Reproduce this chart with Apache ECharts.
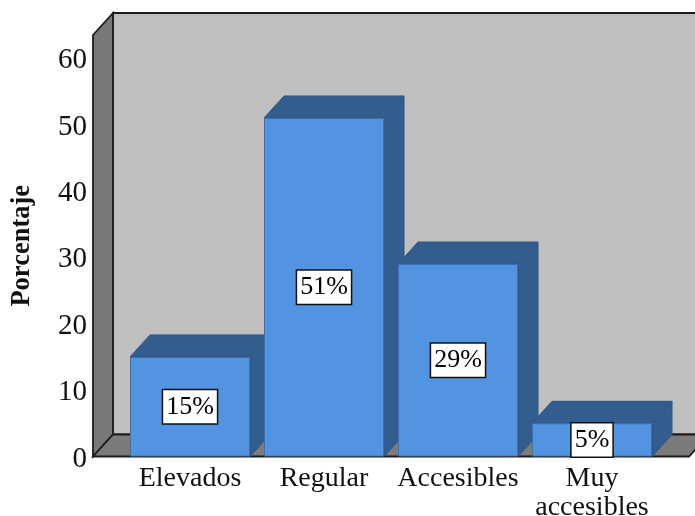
<!DOCTYPE html>
<html>
<head>
<meta charset="utf-8">
<script src="https://cdn.jsdelivr.net/npm/echarts@6/dist/echarts.min.js"></script>
<style>html,body{margin:0;padding:0;background:#fff}#c{width:695px;height:516px}</style>
</head>
<body>
<div id="c"></div>
<script>
const categories = ['Elevados', 'Regular', 'Accesibles', 'Muy\naccesibles'];
const percentages = [15, 51, 29, 5];
const axisMax = 63.5;
const tickStep = 10;

// Oblique projection offset of the extruded box
const DEPTH_X = 20, DEPTH_Y = -22;
const SIDE_MARGIN = 30;
const BAR_RATIO = 120 / 134;
const SERIF = '"Liberation Serif", "Times New Roman", serif';

const chart = echarts.init(document.getElementById('c'), null, { renderer: 'canvas' });

function poly(points, fill, stroke, lineWidth) {
  return {
    type: 'polygon',
    shape: { points },
    style: { fill, stroke: stroke || fill, lineWidth: lineWidth == null ? 1 : lineWidth }
  };
}

// Back wall, left wall and floor of the box, placed from the axis scales
function renderWalls(params, api) {
  const band = api.size([1, 0])[0];
  const left = api.coord([0, 0])[0] - band / 2 - SIDE_MARGIN;
  const right = api.coord([categories.length - 1, 0])[0] + band / 2 + SIDE_MARGIN;
  const y0 = api.coord([0, 0])[1];
  const yT = api.coord([0, axisMax])[1];
  const ink = '#1c1c1c';
  return {
    type: 'group',
    children: [
      poly([[left + DEPTH_X, yT + DEPTH_Y], [right + DEPTH_X, yT + DEPTH_Y], [right + DEPTH_X, y0 + DEPTH_Y], [left + DEPTH_X, y0 + DEPTH_Y]], '#bfbfbf', ink, 1.8),
      poly([[left, yT], [left + DEPTH_X, yT + DEPTH_Y], [left + DEPTH_X, y0 + DEPTH_Y], [left, y0]], '#787878', ink, 1.8),
      poly([[left, y0], [left + DEPTH_X, y0 + DEPTH_Y], [right + DEPTH_X, y0 + DEPTH_Y], [right, y0]], '#7b7b7b', ink, 1.8)
    ]
  };
}

// Top and side faces of each bar; the front face comes from the bar series
function renderBarDepth(params, api) {
  const i = api.value(0);
  const v = api.value(1);
  const c = api.coord([i, v]);
  const y0 = api.coord([i, 0])[1];
  const w = api.size([1, 0])[0] * BAR_RATIO;
  const l = c[0] - w / 2, r = c[0] + w / 2, t = c[1];
  const face = '#335c8f';
  const edge = '#2f5684';
  return {
    type: 'group',
    children: [
      poly([[l, t], [l + DEPTH_X, t + DEPTH_Y], [r + DEPTH_X, t + DEPTH_Y], [r, t]], face, edge, 1),
      poly([[r, t], [r + DEPTH_X, t + DEPTH_Y], [r + DEPTH_X, y0 + DEPTH_Y], [r, y0]], face, edge, 1)
    ]
  };
}

chart.setOption({
  animation: false,
  backgroundColor: '#ffffff',
  grid: { left: 123, width: 536, top: 35, height: 421.5, outerBoundsMode: 'none' },
  xAxis: {
    type: 'category',
    data: categories,
    axisLine: { show: false },
    axisTick: { show: false },
    axisLabel: {
      interval: 0,
      margin: 8,
      color: '#111',
      fontFamily: SERIF,
      fontSize: 28,
      lineHeight: 29
    }
  },
  yAxis: {
    type: 'value',
    min: 0,
    max: axisMax,
    interval: tickStep,
    name: 'Porcentaje',
    nameLocation: 'middle',
    nameGap: 87,
    nameRotate: 90,
    nameTextStyle: { fontFamily: SERIF, fontWeight: 'bold', fontSize: 26.5, color: '#111' },
    axisLine: { show: false },
    axisTick: { show: false },
    splitLine: { show: false },
    axisLabel: {
      showMaxLabel: false,
      margin: 36,
      formatter: '{n|{value}}',
      rich: {
        n: {
          padding: [5, 0, 0, 0],
          color: '#111',
          fontFamily: SERIF,
          fontSize: 29
        }
      }
    }
  },
  series: [
    {
      type: 'custom',
      z: 1,
      silent: true,
      renderItem: renderWalls,
      data: [[0, 0]],
      encode: { x: 0, y: 1 }
    },
    {
      type: 'custom',
      z: 2,
      silent: true,
      renderItem: renderBarDepth,
      data: percentages.map((v, i) => [i, v]),
      encode: { x: 0, y: 1 }
    },
    {
      type: 'bar',
      z: 3,
      data: percentages,
      barWidth: (BAR_RATIO * 100) + '%',
      itemStyle: { color: '#5294e2', borderColor: '#3f6ea8', borderWidth: 1 },
      label: {
        show: true,
        position: 'inside',
        formatter: '{c}%',
        fontFamily: SERIF,
        fontSize: 26,
        color: '#000',
        backgroundColor: '#ffffff',
        borderColor: '#111',
        borderWidth: 1.5,
        padding: [4, 3, 3, 3]
      }
    }
  ]
});
</script>
</body>
</html>
